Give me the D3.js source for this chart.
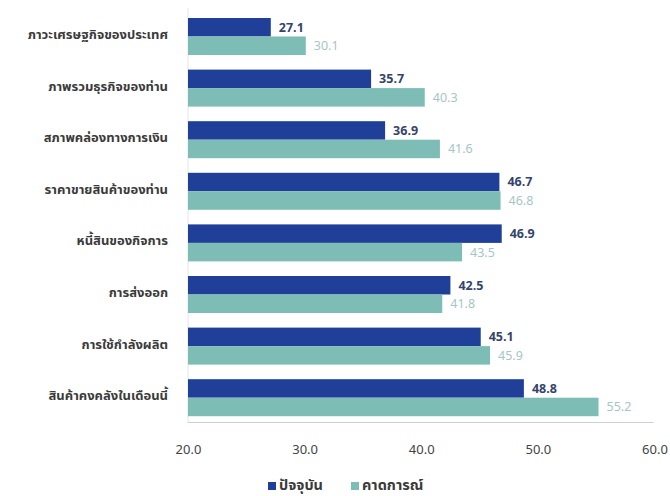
<!DOCTYPE html>
<html>
<head>
<meta charset="utf-8">
<script src="https://cdn.jsdelivr.net/npm/d3@7/dist/d3.min.js"></script>
<style>
  html, body { margin: 0; padding: 0; background: #fff; }
  svg { display: block; }
  text { font-family: "Noto Sans Thai", "Noto Sans", "Open Sans", "DejaVu Sans", sans-serif; }
</style>
</head>
<body>
<div id="chart"></div>
<script>
const categories = [
  "ภาวะเศรษฐกิจของประเทศ",
  "ภาพรวมธุรกิจของท่าน",
  "สภาพคล่องทางการเงิน",
  "ราคาขายสินค้าของท่าน",
  "หนี้สินของกิจการ",
  "การส่งออก",
  "การใช้กำลังผลิต",
  "สินค้าคงคลังในเดือนนี้"
];
const currentValues = [27.1, 35.7, 36.9, 46.7, 46.9, 42.5, 45.1, 48.8];
const forecastValues = [30.1, 40.3, 41.6, 46.8, 43.5, 41.8, 45.9, 55.2];
const seriesNames = ["ปัจจุบัน", "คาดการณ์"];
const xTicks = [20, 30, 40, 50, 60];

const W = 670, H = 496;
const colors = ["#1f3f98", "#7dbdb5"];
const labelColors = ["#34446a", "#a6c6c4"];

const svg = d3.select("#chart").append("svg").attr("width", W).attr("height", H);

const x = d3.scaleLinear().domain([20, 60]).range([188, 654.5]);
const y = d3.scaleBand().domain(categories).range([10.7, 423.5])
  .paddingInner(0.283).paddingOuter(0.1415);
const sub = d3.scaleBand().domain([0, 1]).range([0, y.bandwidth()]);

// left vertical line
svg.append("line").attr("x1", x(20)).attr("x2", x(20))
  .attr("y1", 8).attr("y2", 423).attr("stroke", "#e4e4e4").attr("stroke-width", 1);

const series = [currentValues, forecastValues];
series.forEach((vals, si) => {
  const g = svg.append("g");
  g.selectAll("rect").data(vals).join("rect")
    .attr("x", x(20))
    .attr("y", (d, i) => y(categories[i]) + sub(si))
    .attr("width", d => x(d) - x(20))
    .attr("height", sub.bandwidth())
    .attr("fill", colors[si]);
  g.selectAll("text").data(vals).join("text")
    .attr("x", d => x(d) + 8)
    .attr("y", (d, i) => y(categories[i]) + sub(si) + sub.bandwidth() / 2)
    .attr("dy", "0.35em")
    .attr("font-size", 12.5)
    .attr("font-weight", si === 0 ? 700 : 400)
    .attr("fill", labelColors[si])
    .text(d => d.toFixed(1));
});

// category labels
svg.append("g").selectAll("text").data(categories).join("text")
  .attr("x", 168)
  .attr("y", d => y(d) + y.bandwidth() / 2 - 2)
  .attr("dy", "0.35em")
  .attr("text-anchor", "end")
  .attr("font-size", 13)
  .attr("font-weight", 700)
  .attr("fill", "#3a3a3a")
  .text(d => d);

// bottom axis
const xAxis = d3.axisBottom(x).tickValues(xTicks).tickFormat(d3.format(".1f")).tickSize(0).tickPadding(22);
const ax = svg.append("g").attr("transform", "translate(0,422.5)").call(xAxis);
ax.select(".domain").attr("stroke", "#cfcfcf").attr("d", `M${x(20)},0H${x(60) - 1}`);
ax.selectAll("text").attr("font-size", 13).attr("fill", "#444")
  .style("font-family", '"Noto Sans", "Open Sans", sans-serif');

// legend
const legend = svg.append("g");
const legendX = [268, 351];
seriesNames.forEach((name, i) => {
  legend.append("rect").attr("x", legendX[i]).attr("y", 482).attr("width", 8).attr("height", 8).attr("fill", colors[i]);
  legend.append("text").attr("x", legendX[i] + 11).attr("y", 490)
    .attr("font-size", 14.5).attr("font-weight", 700).attr("fill", "#3a3a3a").text(name);
});
</script>
</body>
</html>
